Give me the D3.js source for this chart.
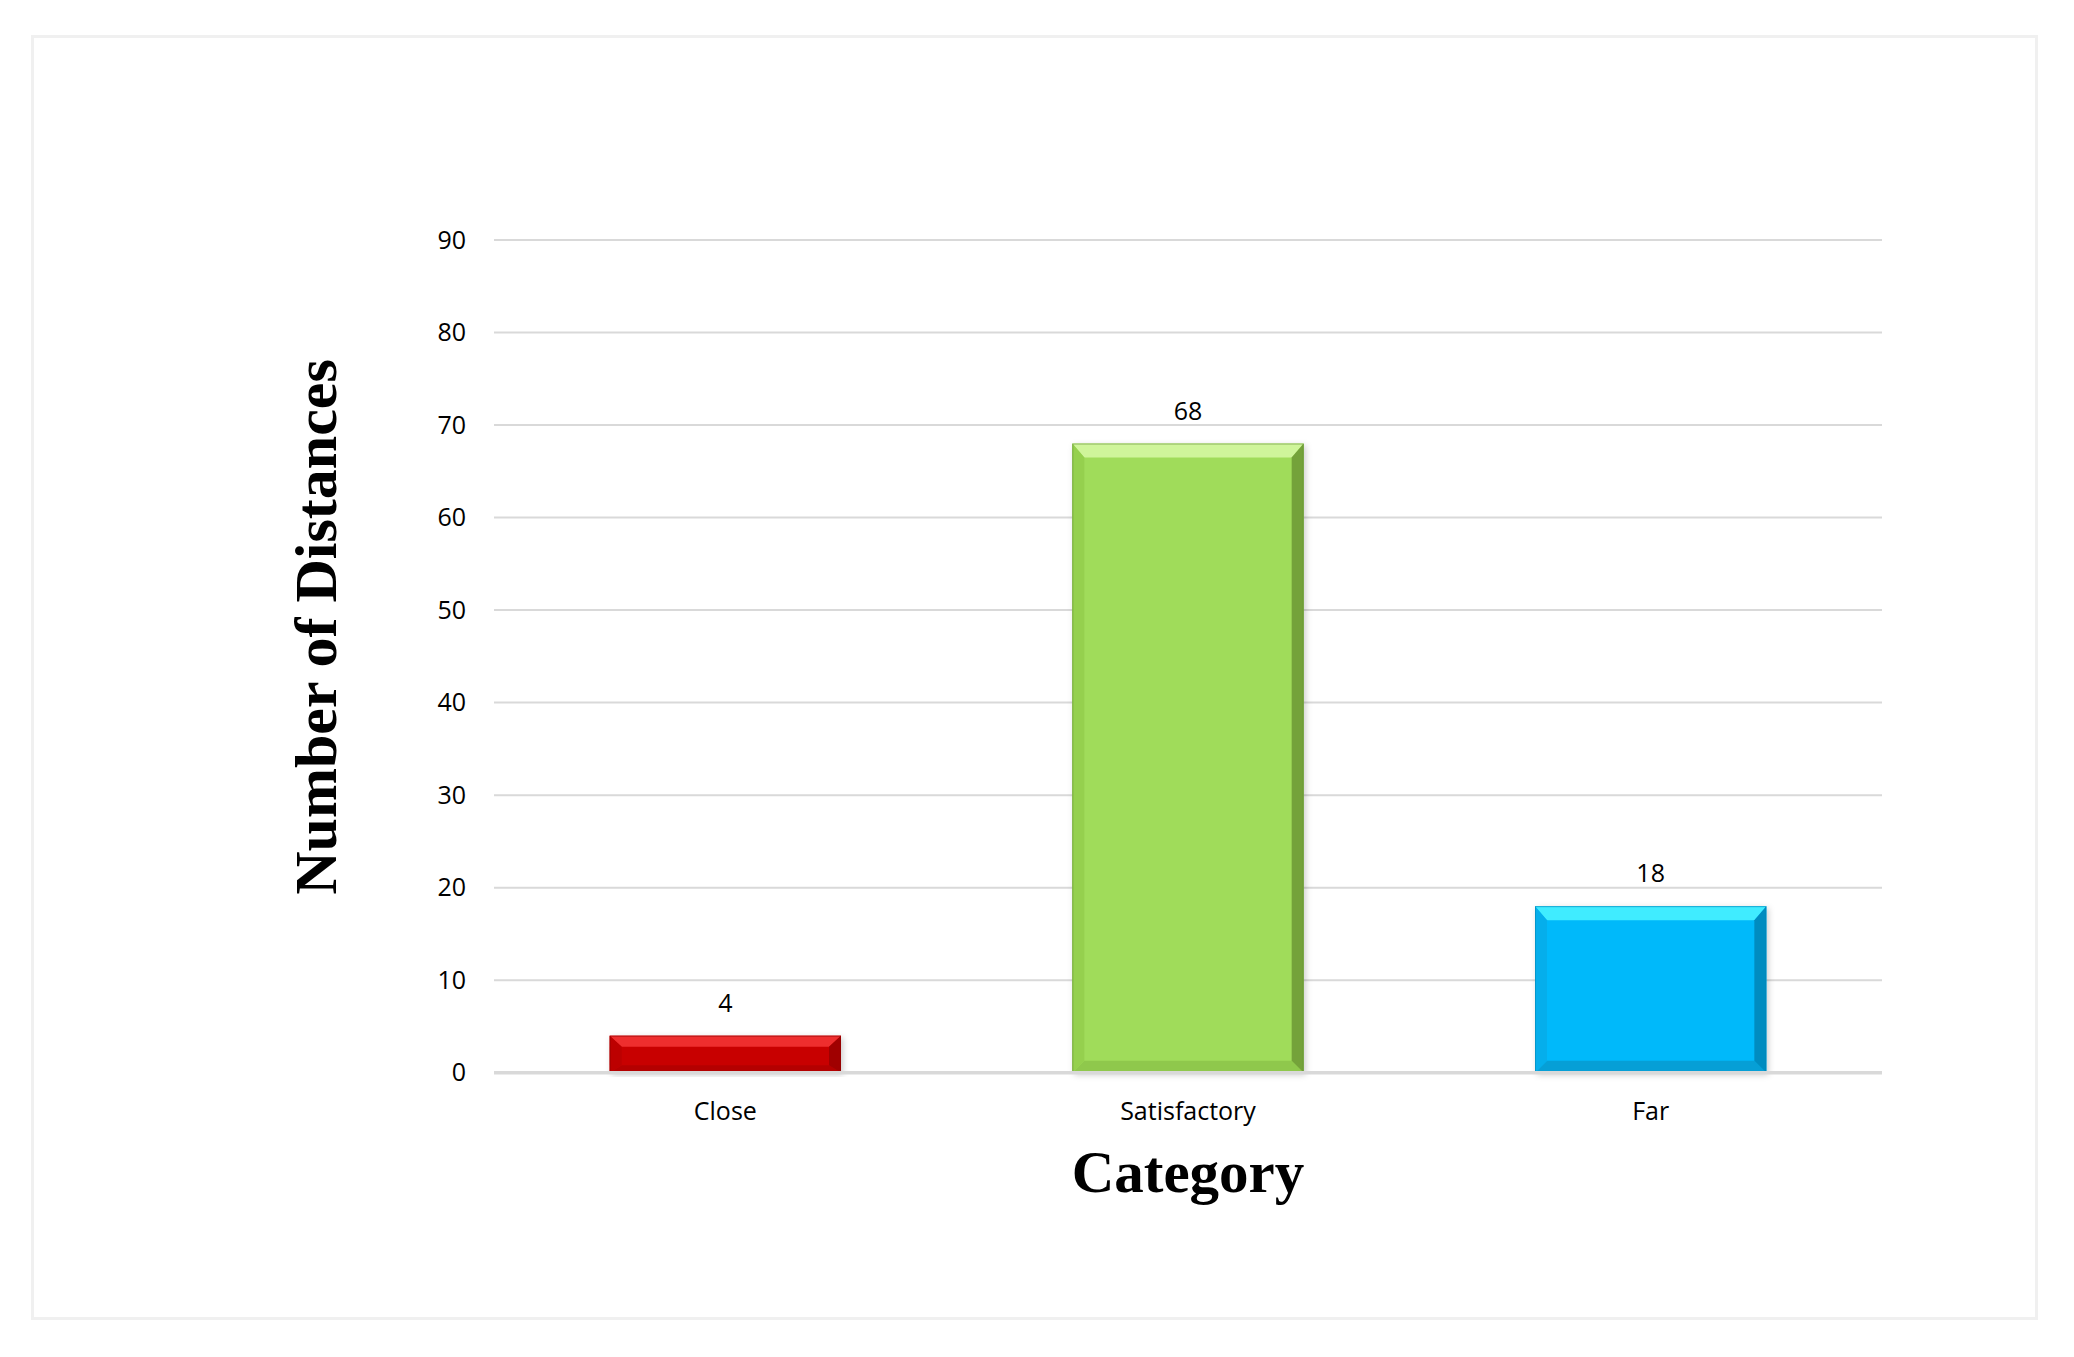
<!DOCTYPE html>
<html>
<head>
<meta charset="utf-8">
<script src="https://cdn.jsdelivr.net/npm/d3@7"></script>
<style>
  html, body { margin: 0; padding: 0; background: #ffffff; }
  svg { display: block; }
</style>
</head>
<body>
<svg id="chart" width="2074" height="1357"></svg>
<script>
const categories = ["Close", "Satisfactory", "Far"];
const values = [4, 68, 18];
const yTicks = [0, 10, 20, 30, 40, 50, 60, 70, 80, 90];
const xTitle = "Category";
const yTitle = "Number of Distances";

const palettes = [
  { main: "#c80000", top: "#ee2e2e", left: "#bc0000", right: "#a00000", bottom: "#b40000", edge: "#900000" },
  { main: "#a0dc5a", top: "#cff59a", left: "#95d04e", right: "#74a23a", bottom: "#8fc84c", edge: "#66913a" },
  { main: "#06b9fa", top: "#40ecff", left: "#05aeeb", right: "#008cc0", bottom: "#069fd6", edge: "#0085b5" }
];

const svg = d3.select("#chart");

// outer frame
svg.append("rect").attr("x", 32.5).attr("y", 36.5).attr("width", 2004).attr("height", 1282)
  .attr("fill", "#ffffff").attr("stroke", "#f0f0f0").attr("stroke-width", 3);

const plot = { left: 494, right: 1882, top: 240, bottom: 1072.7 };

const x = d3.scaleBand().domain(categories).range([plot.left, plot.right])
  .paddingInner(0.5).paddingOuter(0.25);
const y = d3.scaleLinear().domain([0, 90]).range([plot.bottom, plot.top]);

const defs = svg.append("defs");
const f = defs.append("filter").attr("id", "shadow").attr("x", "-10%").attr("y", "-10%").attr("width", "120%").attr("height", "120%");
f.append("feDropShadow").attr("dx", 2).attr("dy", 2).attr("stdDeviation", 3)
  .attr("flood-color", "#000").attr("flood-opacity", 0.2);

// y tick labels
const yAxis = d3.axisLeft(y).tickValues(yTicks).tickSize(0).tickPadding(28);
const gy = svg.append("g").attr("transform", `translate(${plot.left},0)`).call(yAxis);
gy.select(".domain").remove();
gy.selectAll(".tick text")
  .attr("font-family", "'Open Sans', sans-serif").attr("font-size", 25).attr("fill", "#000");

// gridlines
svg.append("g").selectAll("line").data(yTicks.filter(d => d > 0)).join("line")
  .attr("x1", plot.left).attr("x2", plot.right)
  .attr("y1", d => y(d)).attr("y2", d => y(d))
  .attr("stroke", "#d9d9d9").attr("stroke-width", 2);

// bars
const bars = svg.append("g");
categories.forEach((c, i) => {
  const x0 = x(c), x1 = x(c) + x.bandwidth();
  const y0 = y(values[i]), y1 = y(0);
  const p = palettes[i];
  const bt = Math.min(14, (y1 - y0) * 0.3);
  const bb = Math.min(12, (y1 - y0) * 0.2);
  const bs = 12;
  const g = bars.append("g");
  g.append("rect").attr("x", x0).attr("y", y0).attr("width", x1 - x0).attr("height", y1 - y0)
    .attr("fill", p.main).attr("filter", "url(#shadow)");
  const poly = (pts, col) => g.append("polygon").attr("points", pts.map(q => q.join(",")).join(" ")).attr("fill", col);
  poly([[x0, y0], [x1, y0], [x1 - bs, y0 + bt], [x0 + bs, y0 + bt]], p.top);
  poly([[x0, y1], [x1, y1], [x1 - bs, y1 - bb], [x0 + bs, y1 - bb]], p.bottom);
  poly([[x0, y0], [x0 + bs, y0 + bt], [x0 + bs, y1 - bb], [x0, y1]], p.left);
  poly([[x1, y0], [x1 - bs, y0 + bt], [x1 - bs, y1 - bb], [x1, y1]], p.right);
  g.append("rect").attr("x", x0 + 0.5).attr("y", y0 + 0.5).attr("width", x1 - x0 - 1).attr("height", y1 - y0 - 1)
    .attr("fill", "none").attr("stroke", p.edge).attr("stroke-width", 1).attr("stroke-opacity", 0.6);
});

// baseline axis
svg.append("line").attr("x1", plot.left).attr("x2", plot.right)
  .attr("y1", y(0)).attr("y2", y(0)).attr("stroke", "#d9d9d9").attr("stroke-width", 3.5);

// value labels
svg.append("g").selectAll("text").data(categories).join("text")
  .attr("x", d => x(d) + x.bandwidth() / 2)
  .attr("y", (d, i) => y(values[i]) - 24)
  .attr("text-anchor", "middle")
  .attr("font-family", "'Open Sans', sans-serif").attr("font-size", 25).attr("fill", "#000")
  .text((d, i) => values[i]);

// category labels
const xAxis = d3.axisBottom(x).tickSize(0).tickPadding(30);
const gx = svg.append("g").attr("transform", `translate(0,${plot.bottom})`).call(xAxis);
gx.select(".domain").remove();
gx.selectAll(".tick text")
  .attr("font-family", "'Open Sans', sans-serif").attr("font-size", 25).attr("fill", "#000");

// axis titles
svg.append("text").attr("x", (plot.left + plot.right) / 2).attr("y", 1192)
  .attr("text-anchor", "middle")
  .attr("font-family", "'Liberation Serif', 'Times New Roman', serif").attr("font-weight", "bold")
  .attr("font-size", 59).attr("fill", "#000").text(xTitle);

svg.append("text")
  .attr("transform", "translate(336,627) rotate(-90)")
  .attr("text-anchor", "middle")
  .attr("font-family", "'Liberation Serif', 'Times New Roman', serif").attr("font-weight", "bold")
  .attr("font-size", 60).attr("fill", "#000").text(yTitle);
</script>
</body>
</html>
